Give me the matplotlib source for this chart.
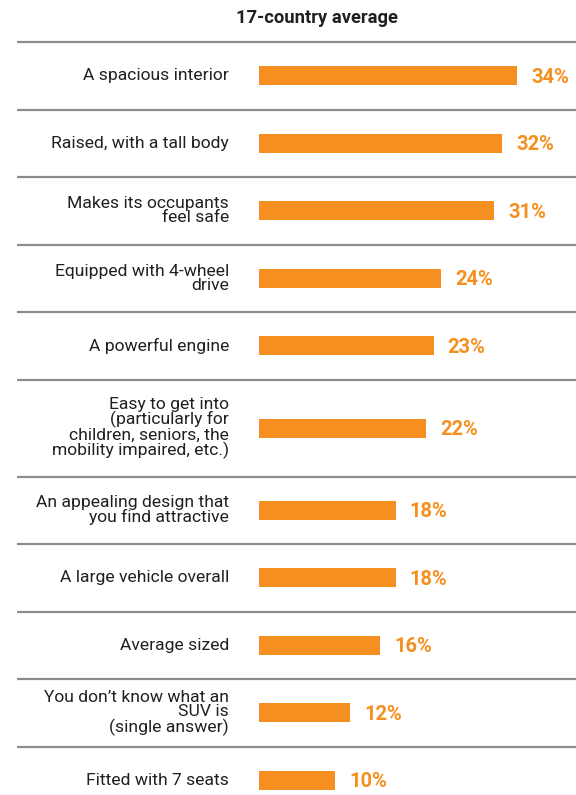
import matplotlib
matplotlib.use("Agg")
import matplotlib.pyplot as plt
from matplotlib import font_manager

# --- data -------------------------------------------------------------
labels = [
    "A spacious interior",
    "Raised, with a tall body",
    "Makes its occupants\nfeel safe",
    "Equipped with 4-wheel\ndrive",
    "A powerful engine",
    "Easy to get into\n(particularly for\nchildren, seniors, the\nmobility impaired, etc.)",
    "An appealing design that\nyou find attractive",
    "A large vehicle overall",
    "Average sized",
    "You don\u2019t know what an\nSUV is\n(single answer)",
    "Fitted with 7 seats",
]
values = [34, 32, 31, 24, 23, 22, 18, 18, 16, 12, 10]
title = "17-country average"

ORANGE = "#F58F1F"
TEXT = "#231F20"
LINE = "#8C8C8C"

names = {f.name for f in font_manager.fontManager.ttflist}
family = ["Liberation Sans Narrow", "DejaVu Sans"] if "Liberation Sans Narrow" in names \
    else ["Roboto", "DejaVu Sans"]
plt.rcParams["font.family"] = family

W, H = 576, 795
fig = plt.figure(figsize=(W / 100, H / 100), dpi=100)

# background axes in pixel coordinates for labels / separators
bg = fig.add_axes([0, 0, 1, 1])
bg.set_xlim(0, W)
bg.set_ylim(H, 0)
bg.axis("off")

# bar axes, x in percent
px_per_pct = 7.59
x0 = 259
bx = fig.add_axes([x0 / W, 0, (W - x0) / W, 1])
bx.set_xlim(0, (W - x0) / px_per_pct)
bx.set_ylim(H, 0)
bx.axis("off")

top = 42
centers = []
edges = [top]
y = top
for lab in labels:
    n = lab.count("\n") + 1
    h = 97 if n >= 4 else 67.5
    centers.append(y + h / 2)
    y += h
    edges.append(y)

for e in edges[:-1]:
    bg.plot([17, W], [e, e], color=LINE, lw=1.6, solid_capstyle="butt")

bx.barh(centers, values, height=19, color=ORANGE, left=0)

for c, lab, v in zip(centers, labels, values):
    bg.text(229, c, lab, ha="right", va="center", fontsize=12.6,
            color=TEXT, linespacing=0.95)
    bx.text(v + 14 / px_per_pct, c + 1.5, f"{v}%", ha="left", va="center",
            fontsize=14.5, fontweight="bold", color=ORANGE)

bg.text(236, 18, title, ha="left", va="center", fontsize=13.2,
        fontweight="bold", color=TEXT)

fig.savefig("out.png", dpi=100)
